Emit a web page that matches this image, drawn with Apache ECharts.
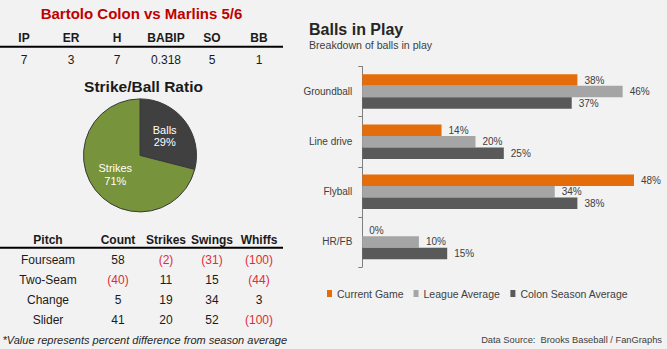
<!DOCTYPE html>
<html>
<head>
<meta charset="utf-8">
<script src="https://cdn.jsdelivr.net/npm/echarts@6/dist/echarts.min.js"></script>
<style>
  html, body { margin: 0; padding: 0; background: #f2f2f2; }
  #main { width: 667px; height: 349px; }
</style>
</head>
<body>
<div id="main"></div>
<script>
// Game line
const gameTitle = 'Bartolo Colon vs Marlins 5/6';
const statLabels = ['IP', 'ER', 'H', 'BABIP', 'SO', 'BB'];
const statValues = ['7', '3', '7', '0.318', '5', '1'];

// Pitch mix: percent difference from season average (negatives shown in red parentheses)
const pitchHeaders = ['Pitch', 'Count', 'Strikes', 'Swings', 'Whiffs'];
const pitchNames = ['Fourseam', 'Two-Seam', 'Change', 'Slider'];
const pitchCount = [58, -40, 5, 41];
const pitchStrikes = [-2, 11, 19, 20];
const pitchSwings = [-31, 15, 34, 52];
const pitchWhiffs = [-100, -44, 3, -100];
const footnote = '*Value represents percent difference from season average';

// Strike / ball split
const pieNames = ['Balls', 'Strikes'];
const pieValues = [29, 71];

// Balls in play breakdown (%)
const bipCategories = ['Groundball', 'Line drive', 'Flyball', 'HR/FB'];
const seriesNames = ['Current Game', 'League Average', 'Colon Season Average'];
const currentGame = [38, 14, 48, 0];
const leagueAvg = [46, 20, 34, 10];
const colonSeason = [37, 25, 38, 15];

const FONT = '"Liberation Sans", Arial, sans-serif';
const RED = '#DE2C38';
const TEXT = '#1a1a1a';

function txt(text, x, y, opts) {
  opts = opts || {};
  return {
    type: 'text', x: x, y: y, silent: true,
    style: {
      text: text,
      align: opts.align || 'center',
      verticalAlign: 'middle',
      fontFamily: FONT,
      fontSize: opts.size || 12,
      fontWeight: opts.weight || 'normal',
      fontStyle: opts.style || 'normal',
      fill: opts.color || TEXT
    }
  };
}

function fmtDiff(v) {
  return v < 0 ? '(' + Math.abs(v) + ')' : String(v);
}

const graphics = [];

// Left panel: title and game line
graphics.push(txt(gameTitle, 141.5, 13.5, { size: 15, weight: 'bold', color: '#C00000' }));
const statX = [24, 71, 117, 166, 212, 259];
statLabels.forEach((s, i) => graphics.push(txt(s, statX[i], 37.5, { weight: 'bold' })));
graphics.push({ type: 'rect', silent: true, shape: { x: 0, y: 45.7, width: 283, height: 2 }, style: { fill: '#000' } });
statValues.forEach((s, i) => graphics.push(txt(s, statX[i], 59.5, {})));

// Pie title
graphics.push(txt('Strike/Ball Ratio', 143.5, 86.5, { size: 15.5, weight: 'bold', color: '#1a1a1a' }));

// Pitch table
const pitchX = [48, 118, 166, 212, 259];
pitchHeaders.forEach((s, i) => graphics.push(txt(s, pitchX[i], 239.5, { weight: 'bold' })));
graphics.push({ type: 'rect', silent: true, shape: { x: 0, y: 246.8, width: 283, height: 2 }, style: { fill: '#000' } });
const pitchCols = [pitchCount, pitchStrikes, pitchSwings, pitchWhiffs];
pitchNames.forEach((name, r) => {
  const y = 259.5 + r * 20;
  graphics.push(txt(name, pitchX[0], y, {}));
  pitchCols.forEach((col, c) => {
    const v = col[r];
    graphics.push(txt(fmtDiff(v), pitchX[c + 1], y, { color: v < 0 ? RED : TEXT }));
  });
});
graphics.push(txt(footnote, 2.5, 339.5, { align: 'left', size: 11, style: 'italic', color: '#262626' }));

// Right panel: titles and source note
graphics.push(txt('Balls in Play', 309, 29.5, { align: 'left', size: 16, weight: 'bold', color: '#262626' }));
graphics.push(txt('Breakdown of balls in play', 309, 44.5, { align: 'left', size: 10.6, color: '#404040' }));
graphics.push(txt('Data Source:  Brooks Baseball / FanGraphs', 662, 340, { align: 'right', size: 9.3, color: '#404040' }));

const barColors = ['#E46C0A', '#A5A5A5', '#595959'];
const barData = [currentGame, leagueAvg, colonSeason];

const chart = echarts.init(document.getElementById('main'), null, { renderer: 'svg' });
chart.setOption({
  backgroundColor: '#f2f2f2',
  animation: false,
  textStyle: { fontFamily: FONT },
  grid: { left: 362.3, top: 66.5, width: 283, height: 200.5, containLabel: false },
  xAxis: { type: 'value', min: 0, max: 50, show: false },
  yAxis: {
    type: 'category',
    data: bipCategories,
    inverse: true,
    axisLine: { lineStyle: { color: '#7f7f7f', width: 1 } },
    axisTick: { show: true, length: 4, lineStyle: { color: '#7f7f7f' } },
    axisLabel: { color: '#404040', fontSize: 10, margin: 10, fontFamily: FONT },
    splitLine: { show: false }
  },
  legend: {
    data: seriesNames,
    left: 327, top: 288, padding: 0,
    itemWidth: 5, itemHeight: 7, itemGap: 10,
    icon: 'rect',
    selectedMode: false,
    textStyle: { color: '#404040', fontSize: 10.5, fontFamily: FONT }
  },
  series: seriesNames.map((name, i) => ({
    name: name,
    type: 'bar',
    data: barData[i],
    barGap: '0%',
    barCategoryGap: '31%',
    itemStyle: { color: barColors[i] },
    silent: true,
    label: {
      show: true, position: 'right', distance: 7,
      formatter: '{c}%', color: '#404040', fontSize: 10, fontFamily: FONT
    }
  })).concat([{
    type: 'pie',
    center: [140, 155.4],
    radius: 56.5,
    startAngle: 90,
    clockwise: true,
    silent: true,
    data: pieNames.map((n, i) => ({ name: n, value: pieValues[i] })),
    itemStyle: { borderColor: '#3a3a3a', borderWidth: 1 },
    color: ['#404040', '#77933C'],
    label: {
      show: true, position: 'inside',
      formatter: p => p.name + '\n' + Math.round(p.percent) + '%',
      color: '#ffffff', fontSize: 11, lineHeight: 12.5, fontFamily: FONT
    },
    labelLine: { show: false },
    emphasis: { disabled: true }
  }]),
  graphic: graphics
});
</script>
</body>
</html>
